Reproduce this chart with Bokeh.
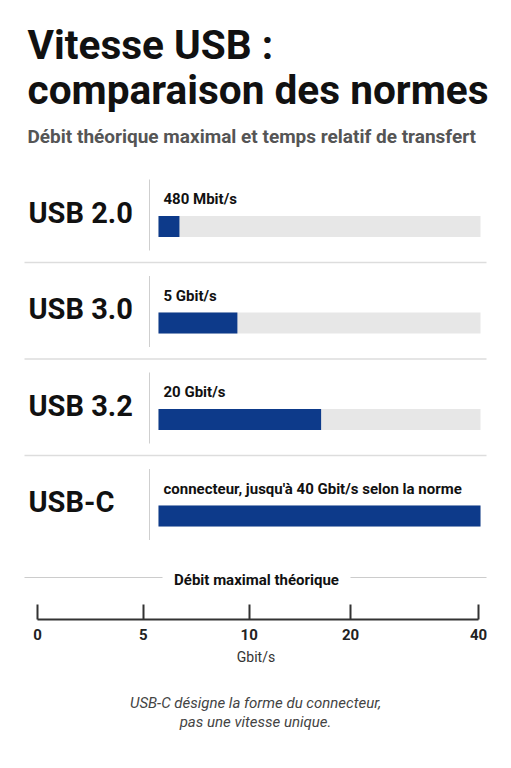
from bokeh.plotting import figure
from bokeh.models import Range1d, LinearAxis, FixedTicker, ColumnDataSource
from bokeh.layouts import column
from bokeh.core.properties import value
from bokeh.embed import file_html
from bokeh.resources import INLINE

# ---------------- data ----------------
standards = ["USB 2.0", "USB 3.0", "USB 3.2", "USB-C"]
speed_labels = ["480 Mbit/s", "5 Gbit/s", "20 Gbit/s",
                "connecteur, jusqu'à 40 Gbit/s selon la norme"]
bar_lengths = [2.6, 9.8, 20.2, 40.0]      # drawn length on the 0-40 track
track_max = 40.0
axis_tick_pos = [0, 24, 48, 71, 100]
axis_tick_labels = ["0", "5", "10", "20", "40"]

title_lines = ["Vitesse USB :", "comparaison des normes"]
subtitle = "Débit théorique maximal et temps relatif de transfert"
axis_header = "Débit maximal théorique"
axis_unit = "Gbit/s"
footnote = ["USB-C désigne la forme du connecteur,", "pas une vitesse unique."]

FONT = value("Roboto")
BLUE = "#0d3a8a"
TRACK = "#e7e7e7"

# ---------------- layout helpers ----------------
W = 511
HA = 690
FRAME_H = 619
PX_PER_UNIT = 322 / track_max
X0 = -158 / PX_PER_UNIT


def X(px):
    return X0 + px / PX_PER_UNIT


pA = figure(width=W, height=HA, output_backend="svg", toolbar_location=None,
            x_range=Range1d(X0, X0 + W / PX_PER_UNIT), y_range=Range1d(FRAME_H, 0),
            x_axis_location=None, y_axis_location=None,
            min_border_left=0, min_border_right=0, min_border_top=0,
            min_border_bottom=HA - FRAME_H)
pA.outline_line_color = None
pA.xgrid.visible = False
pA.ygrid.visible = False
pA.background_fill_color = "white"
pA.border_fill_color = "white"

# Title & subtitle
pA.text(x=[X(27)], y=[44], text=[title_lines[0]], text_font=FONT, text_font_style="bold",
        text_font_size="40.6px", text_color="#111111", text_baseline="middle")
pA.text(x=[X(27)], y=[89], text=[title_lines[1]], text_font=FONT, text_font_style="bold",
        text_font_size="40.6px", text_color="#111111", text_baseline="middle")
pA.text(x=[X(27)], y=[136], text=[subtitle], text_font=FONT, text_font_style="bold",
        text_font_size="19px", text_color="#555555", text_baseline="middle")

n = len(standards)
centers = [226 + 96.5 * i for i in range(n)]
bar_h = 21

src = ColumnDataSource(dict(
    y=centers,
    length=bar_lengths,
    track=[track_max] * n,
    std=standards,
    lab=speed_labels,
    lab_y=[c - 27.5 for c in centers],
    std_y=[c - 14 for c in centers],
    div_top=[c - 47 for c in centers],
    div_bot=[c + 24 for c in centers],
    x_std=[X(28)] * n,
    x_lab=[X(163)] * n,
    x_div=[X(149)] * n,
))

pA.hbar(y="y", left=0, right="track", height=bar_h, source=src,
        fill_color=TRACK, line_color=None)
pA.hbar(y="y", left=0, right="length", height=bar_h, source=src,
        fill_color=BLUE, line_color=None)
pA.segment(x0="x_div", x1="x_div", y0="div_top", y1="div_bot", source=src,
           line_color="#cfcfcf", line_width=1)
pA.text(x="x_std", y="std_y", text="std", source=src, text_font=FONT,
        text_font_style="bold", text_font_size="29px", text_color="#111111",
        text_baseline="middle")
pA.text(x="x_lab", y="lab_y", text="lab", source=src, text_font=FONT,
        text_font_style="bold", text_font_size="15px", text_color="#111111",
        text_baseline="middle")

# row separators
sep_y = [c + 36 for c in centers[:-1]]
pA.segment(x0=[X(24)] * len(sep_y), x1=[X(486)] * len(sep_y), y0=sep_y, y1=sep_y,
           line_color="#dddddd", line_width=1.5)

# axis header with side rules
pA.segment(x0=[X(24), X(350)], x1=[X(162), X(486)], y0=[577, 577], y1=[577, 577],
           line_color="#cccccc", line_width=1.2)
pA.text(x=[X(256)], y=[579.5], text=[axis_header], text_font=FONT, text_font_style="bold",
        text_font_size="15px", text_color="#111111", text_align="center",
        text_baseline="middle")

# axis (positions of the non-uniform ticks on a 0-100 span)
AX_PX = 441 / 100
pA.extra_x_ranges = {"ax": Range1d(-37 / AX_PX, (W - 37) / AX_PX)}
ax = LinearAxis(x_range_name="ax", ticker=FixedTicker(ticks=axis_tick_pos),
                major_label_overrides={t: l for t, l in zip(axis_tick_pos, axis_tick_labels)},
                bounds=(0, 100), axis_label=axis_unit)
ax.axis_line_color = "#333333"
ax.axis_line_width = 2
ax.major_tick_in = 15
ax.major_tick_out = 0
ax.major_tick_line_color = "#333333"
ax.major_tick_line_width = 2
ax.minor_tick_line_color = None
ax.major_label_text_font = "Roboto"
ax.major_label_text_font_style = "bold"
ax.major_label_text_font_size = "15px"
ax.major_label_text_color = "#222222"
ax.major_label_standoff = 9
ax.axis_label_text_font = "Roboto"
ax.axis_label_text_font_style = "normal"
ax.axis_label_text_font_size = "14px"
ax.axis_label_text_color = "#333333"
ax.axis_label_standoff = 6
pA.add_layout(ax, "below")

# ---------------- footnote ----------------
HB = 768 - HA
pB = figure(width=W, height=HB, output_backend="svg", toolbar_location=None,
            x_range=Range1d(0, W), y_range=Range1d(HB, 0),
            x_axis_location=None, y_axis_location=None,
            min_border_left=0, min_border_right=0, min_border_top=0, min_border_bottom=0)
pB.outline_line_color = None
pB.xgrid.visible = False
pB.ygrid.visible = False
pB.text(x=[255, 255], y=[702 - HA, 721 - HA], text=footnote, text_font=FONT,
        text_font_style="italic", text_font_size="15px", text_color="#444444",
        text_align="center", text_baseline="middle")

layout = column(pA, pB, spacing=0)
open("out.html", "w").write(file_html(layout, INLINE))
